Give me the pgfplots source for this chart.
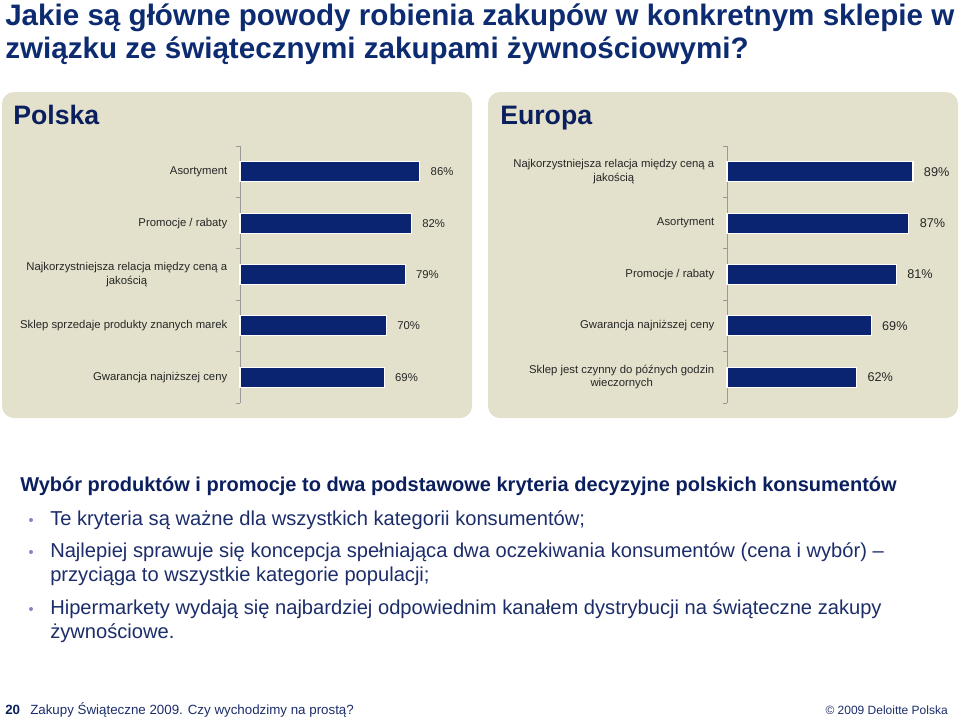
\documentclass[border=0pt]{standalone}
\usepackage{fontspec}
\setmainfont{Liberation Sans}
\usepackage{pgfplots}
\pgfplotsset{compat=1.18}

\definecolor{barblue}{HTML}{0A2472}
\definecolor{panel}{HTML}{E3E1CC}
\definecolor{titleblue}{HTML}{0D2B70}
\definecolor{navy}{HTML}{0B1F5E}
\definecolor{txtblue}{HTML}{1C2D6A}
\definecolor{lblgrey}{HTML}{262626}
\definecolor{dot}{HTML}{8585C8}

\pgfplotsset{
  panelbars/.style={
    xbar, scale only axis, width=156.75pt, height=192.75pt,
    xmin=0, xmax=100, ymin=-0.5, ymax=4.5, y dir=reverse,
    enlargelimits=false, clip=false,
    axis x line=none, axis y line*=left,
    y axis line style={draw=gray!80, line width=0.6pt, -},
    ytick={0,...,4}, major tick length=0pt,
    minor ytick={-0.5,0.5,...,4.5}, minor tick length=3pt, tick align=outside,
    minor tick style={draw=gray!80, line width=0.6pt},
    yticklabel style={font=\fontsize{8.5}{10}\selectfont, color=lblgrey,
      align=center, anchor=east, xshift=-6pt},
    bar width=15pt,
    nodes near coords={\pgfmathprintnumber{\pgfplotspointmeta}\%},
    nodes near coords style={color=lblgrey, anchor=west, xshift=4.5pt},
    /pgf/number format/assume math mode=true,
  },
  panelbar/.style={fill=barblue, draw=white, line width=0.8pt},
}

\begin{document}
\begin{tikzpicture}[x=0.75pt, y=-0.75pt]
  \useasboundingbox (0,0) rectangle (960,722);
  \fill[white] (0,0) rectangle (960,722);

  % title
  \node[anchor=base west, inner sep=0, font=\fontsize{22.2}{24}\selectfont\bfseries, color=titleblue]
    at (5,25) {Jakie są główne powody robienia zakupów w konkretnym sklepie w};
  \node[anchor=base west, inner sep=0, font=\fontsize{22.2}{24}\selectfont\bfseries, color=titleblue]
    at (5,58) {związku ze świątecznymi zakupami żywnościowymi?};

  % panels
  \fill[panel, rounded corners=9pt] (2,92) rectangle (472,418);
  \fill[panel, rounded corners=9pt] (488,92) rectangle (958,418);
  \node[anchor=base west, inner sep=0, font=\fontsize{20}{22}\selectfont\bfseries, color=navy]
    at (13,124) {Polska};
  \node[anchor=base west, inner sep=0, font=\fontsize{20}{22}\selectfont\bfseries, color=navy]
    at (500,124) {Europa};

  \coordinate (PL) at (240,146);
  \coordinate (EU) at (727,146);

  \begin{axis}[panelbars, at={(PL)}, anchor=north west,
      nodes near coords style={font=\fontsize{8.5}{10}\selectfont},
      yticklabels={Asortyment, Promocje / rabaty,
        {Najkorzystniejsza relacja między ceną a\\jakością},
        Sklep sprzedaje produkty znanych marek, Gwarancja najniższej ceny}]
    \addplot[panelbar] coordinates {(86,0) (82,1) (79,2) (70,3) (69,4)};
  \end{axis}

  \begin{axis}[panelbars, at={(EU)}, anchor=north west,
      nodes near coords style={font=\fontsize{9.5}{11}\selectfont},
      yticklabels={{Najkorzystniejsza relacja między ceną a\\jakością}, Asortyment,
        Promocje / rabaty, Gwarancja najniższej ceny,
        {Sklep jest czynny do późnych godzin\\wieczornych}}]
    \addplot[panelbar] coordinates {(89,0) (87,1) (81,2) (69,3) (62,4)};
  \end{axis}

  % conclusions
  \node[anchor=base west, inner sep=0, font=\fontsize{15}{17}\selectfont\bfseries, color=navy]
    at (20,491) {Wybór produktów i promocje to dwa podstawowe kryteria decyzyjne polskich konsumentów};
  \begin{scope}[every node/.style={anchor=base west, inner sep=0,
      font=\fontsize{15.1}{17}\selectfont, color=txtblue}]
    \node at (50,525) {Te kryteria są ważne dla wszystkich kategorii konsumentów;};
    \node at (50,557) {Najlepiej sprawuje się koncepcja spełniająca dwa oczekiwania konsumentów (cena i wybór) –};
    \node at (50,581) {przyciąga to wszystkie kategorie populacji;};
    \node at (50,614) {Hipermarkety wydają się najbardziej odpowiednim kanałem dystrybucji na świąteczne zakupy};
    \node at (50,638) {żywnościowe.};
  \end{scope}
  \foreach \yy in {520,552,609} \fill[dot] (31,\yy) circle (2);

  % footer
  \node[anchor=base west, inner sep=0, font=\fontsize{10}{12}\selectfont\bfseries, color=navy]
    at (5,714) {20};
  \node[anchor=base west, inner sep=0, font=\fontsize{10}{12}\selectfont, color=txtblue]
    at (30,714) {Zakupy Świąteczne 2009. Czy wychodzimy na prostą?};
  \node[anchor=base east, inner sep=0, font=\fontsize{9}{11}\selectfont, color=txtblue]
    at (948,714) {© 2009 Deloitte Polska};
\end{tikzpicture}
\end{document}
